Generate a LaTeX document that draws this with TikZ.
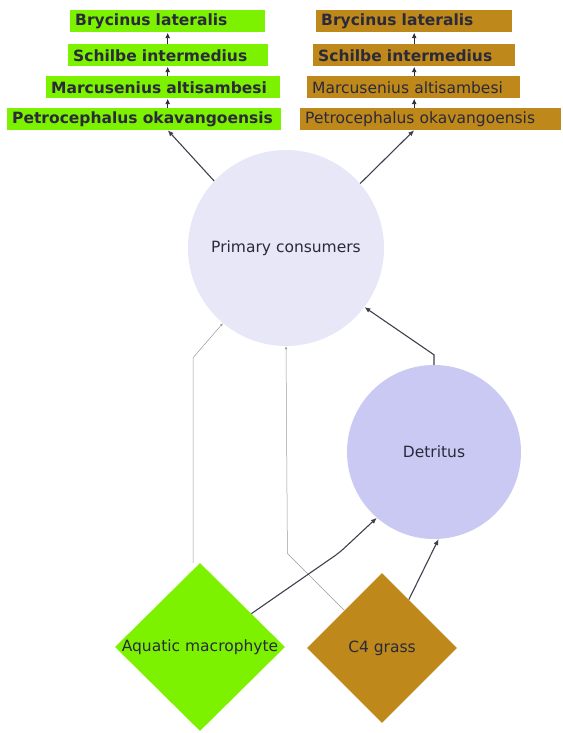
\documentclass[tikz,border=0pt]{standalone}
\usepackage{fontspec}
\setmainfont{DejaVu Sans}
\usetikzlibrary{shapes.geometric,arrows.meta}
\definecolor{algae}{RGB}{124,242,0}
\definecolor{grassy}{RGB}{190,136,26}
\definecolor{consumer}{RGB}{231,231,248}
\definecolor{detrit}{RGB}{201,201,243}
\definecolor{ink}{RGB}{42,42,58}
\newcommand\labelsize{\fontsize{15.5}{18}\selectfont}
\tikzset{
  fish/.style={rectangle,anchor=west,minimum height=22pt,inner xsep=5pt,inner ysep=0pt,
    align=left,text width=#1},
  bold/.style={font=\labelsize\bfseries},
  pool/.style={circle,inner sep=0pt},
  source/.style={diamond,inner sep=0pt},
  feed/.style={-{Latex[length=6pt,width=5pt]},line width=1.1pt,draw=ink!90},
  link/.style={-{Latex[length=5.5pt,width=5pt]},line width=0.9pt,draw=ink},
  weak/.style={-{Latex[length=3pt,width=2.5pt]},line width=0.5pt,draw=black!40}
}
\begin{document}
\begin{tikzpicture}[x=1pt,y=-1pt,font=\labelsize,text=ink,every label/.style={text=ink}]
\useasboundingbox (0,0) rectangle (562,733);
\node[fish=185pt,fill=algae,bold] (bryA) at (70,21.5) {Brycinus lateralis};
\node[fish=190pt,fill=algae,bold] (schA) at (68,55.5) {Schilbe intermedius};
\node[fish=224pt,fill=algae,bold] (marA) at (46,87.5) {Marcusenius altisambesi};
\node[fish=264pt,fill=algae,bold] (petA) at (7,119) {Petrocephalus okavangoensis};
\node[fish=186pt,fill=grassy,bold] (bryC) at (316,21.5) {Brycinus lateralis};
\node[fish=192pt,fill=grassy,bold] (schC) at (313,55.5) {Schilbe intermedius};
\node[fish=203pt,fill=grassy] (marC) at (307,87.5) {Marcusenius altisambesi};
\node[fish=251pt,fill=grassy] (petC) at (300,119) {Petrocephalus okavangoensis};
\node[pool,fill=consumer,minimum size=196pt] (cons) at (286,248) {Primary consumers};
\node[pool,fill=detrit,minimum size=174pt] (det) at (434,452) {Detritus};
\node[source,fill=algae,minimum width=170pt,minimum height=168pt,
  label=center:{Aquatic macrophyte}] (macro) at (200,647) {};
\node[source,fill=grassy,minimum width=150pt,minimum height=150pt,
  label=center:{C4 grass}] (grass) at (382,648) {};
\foreach \lo/\hi in {petA/marA,marA/schA,schA/bryA}
  \draw[link] (\lo.north -| bryA) -- (\hi.south -| bryA);
\foreach \lo/\hi in {petC/marC,marC/schC,schC/bryC}
  \draw[link] (\lo.north -| bryC) -- (\hi.south -| bryC);
\draw[feed] (cons.137) -- (petA.south -| bryA);
\draw[feed] (cons.41) -- (petC.south -| bryC);
\draw[feed] (det.north) -- ++(0,-10) -- (cons.-37);
\draw[weak] ([xshift=-7pt]macro.north) -- ++(0,-205) -- (cons.-130);
\draw[weak] (grass.135) -- ++(-57,-57) -- (cons.south);
\draw[feed,rounded corners=6pt] (macro.33) -- ++(88,-61) -- (det.229);
\draw[feed] (grass.61) -- (det.-87);
\end{tikzpicture}
\end{document}
